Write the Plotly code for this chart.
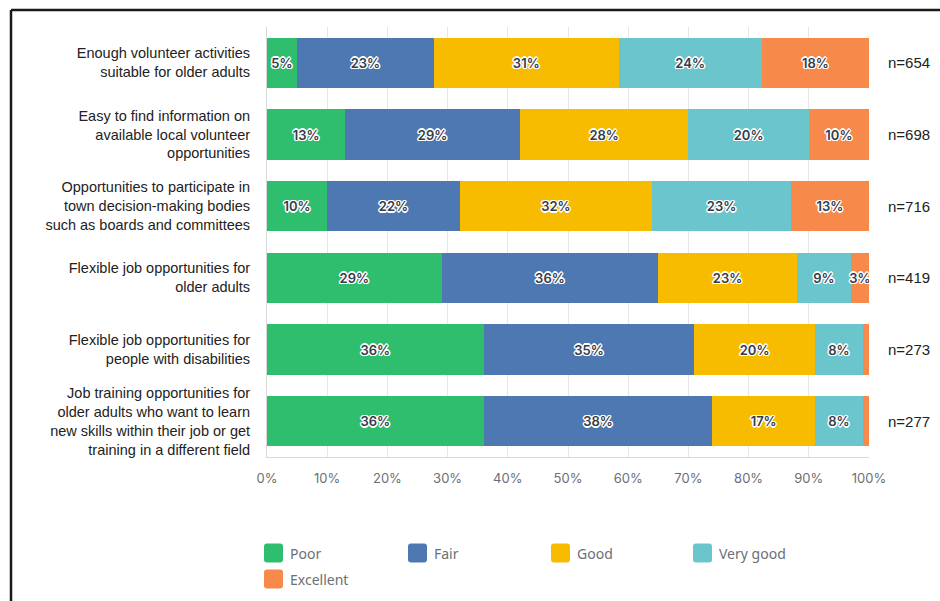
import plotly.graph_objects as go

# Survey statements (top to bottom) and their response counts
categories = [
    "Enough volunteer activities<br>suitable for older adults",
    "Easy to find information on<br>available local volunteer<br>opportunities",
    "Opportunities to participate in<br>town decision-making bodies<br>such as boards and committees",
    "Flexible job opportunities for<br>older adults",
    "Flexible job opportunities for<br>people with disabilities",
    "Job training opportunities for<br>older adults who want to learn<br>new skills within their job or get<br>training in a different field",
]
counts = [654, 698, 716, 419, 273, 277]

# Percent of responses per rating
poor = [5, 13, 10, 29, 36, 36]
fair = [23, 29, 22, 36, 35, 38]
good = [31, 28, 32, 23, 20, 17]
very_good = [24, 20, 23, 9, 8, 8]
excellent = [18, 10, 13, 3, 1, 1]

ratings = ["Poor", "Fair", "Good", "Very good", "Excellent"]
series = [poor, fair, good, very_good, excellent]
colors = ["#2EBE6E", "#4D78B2", "#F7BC00", "#6BC5CC", "#F7894B"]
x_ticks = list(range(0, 101, 10))

# plot area in pixels
W, H = 940, 601
L, R, T, B = 267, 71, 27, 144
pw, ph = W - L - R, H - T - B


def px_x(p):
    return (p - L) / pw


def px_y(p):
    return (H - B - p) / ph


halo = ("1px 1px 0 #fff, -1px -1px 0 #fff, 1px -1px 0 #fff, -1px 1px 0 #fff, "
        "0 1.5px 0 #fff, 0 -1.5px 0 #fff, 1.5px 0 0 #fff, -1.5px 0 0 #fff")

fig = go.Figure()
for name, vals, col in zip(ratings, series, colors):
    fig.add_trace(go.Bar(
        y=categories, x=vals, name=name, orientation="h",
        marker=dict(color=col, line=dict(width=0)),
        text=[f"{v}%" if v >= 3 else "" for v in vals],
        textposition="inside", insidetextanchor="middle",
        constraintext="none", textangle=0,
        textfont=dict(family="Inter, Roboto, sans-serif", size=13,
                      color="#363c48", weight=600, shadow=halo),
        showlegend=False, hoverinfo="skip",
    ))

# sample sizes to the right of each bar
for cat, n in zip(categories, counts):
    fig.add_annotation(
        x=px_x(886), xref="paper", y=cat, yref="y",
        text=f"n={n}", showarrow=False, xanchor="left",
        font=dict(family="Liberation Sans, Arial, sans-serif", size=15,
                  color="#222222"),
    )

# legend: rounded swatches with labels, four per row
legend_pos = [(264, 553), (408, 553), (551, 553), (693, 553), (264, 579)]
sw, rad = 19, 3
for name, col, (lx, ly) in zip(ratings, colors, legend_pos):
    x0, x1 = px_x(lx), px_x(lx + sw)
    y0, y1 = px_y(ly + sw / 2), px_y(ly - sw / 2)
    rx, ry = rad / pw, rad / ph
    path = (f"M{x0 + rx},{y0} L{x1 - rx},{y0} Q{x1},{y0} {x1},{y0 + ry} "
            f"L{x1},{y1 - ry} Q{x1},{y1} {x1 - rx},{y1} "
            f"L{x0 + rx},{y1} Q{x0},{y1} {x0},{y1 - ry} "
            f"L{x0},{y0 + ry} Q{x0},{y0} {x0 + rx},{y0} Z")
    fig.add_shape(type="path", xref="paper", yref="paper", path=path,
                  fillcolor=col, line=dict(width=0))
    fig.add_annotation(
        x=px_x(lx + 24), y=px_y(ly), xref="paper", yref="paper",
        text=name, showarrow=False, xanchor="left", yanchor="middle",
        font=dict(family="Noto Sans, Open Sans, sans-serif", size=14,
                  color="#6b6f76"),
    )

# frame lines along the top and left edges
frame = dict(color="#1a1a1a", width=2.5)
fig.add_shape(type="line", xref="paper", yref="paper",
              x0=px_x(11), x1=px_x(W + 5), y0=px_y(10), y1=px_y(10), line=frame)
fig.add_shape(type="line", xref="paper", yref="paper",
              x0=px_x(11), x1=px_x(11), y0=px_y(10), y1=px_y(H + 5), line=frame)

fig.update_layout(
    width=W, height=H,
    margin=dict(l=L, r=R, t=T, b=B, pad=0),
    barmode="stack", barnorm="percent", bargap=0.3,
    paper_bgcolor="white", plot_bgcolor="white",
    showlegend=False,
    xaxis=dict(
        range=[0, 100], tickvals=x_ticks,
        ticktext=[f"{t}%" for t in x_ticks],
        showgrid=True, gridcolor="#e6e6e6", gridwidth=1,
        zeroline=False, showline=True, linecolor="#d9d9d9", linewidth=1,
        ticks="", ticklabelstandoff=9,
        tickfont=dict(family="Inter, Roboto, sans-serif", size=13,
                      color="#6b6f76"),
        fixedrange=True,
    ),
    yaxis=dict(
        autorange="reversed", showgrid=False, zeroline=False,
        showline=True, linecolor="#d9d9d9", linewidth=1,
        ticks="", ticklabelstandoff=13,
        tickfont=dict(family="Liberation Sans, Arial, sans-serif", size=14.5,
                      color="#222222"),
        fixedrange=True,
    ),
)

fig.write_html("out.html")
